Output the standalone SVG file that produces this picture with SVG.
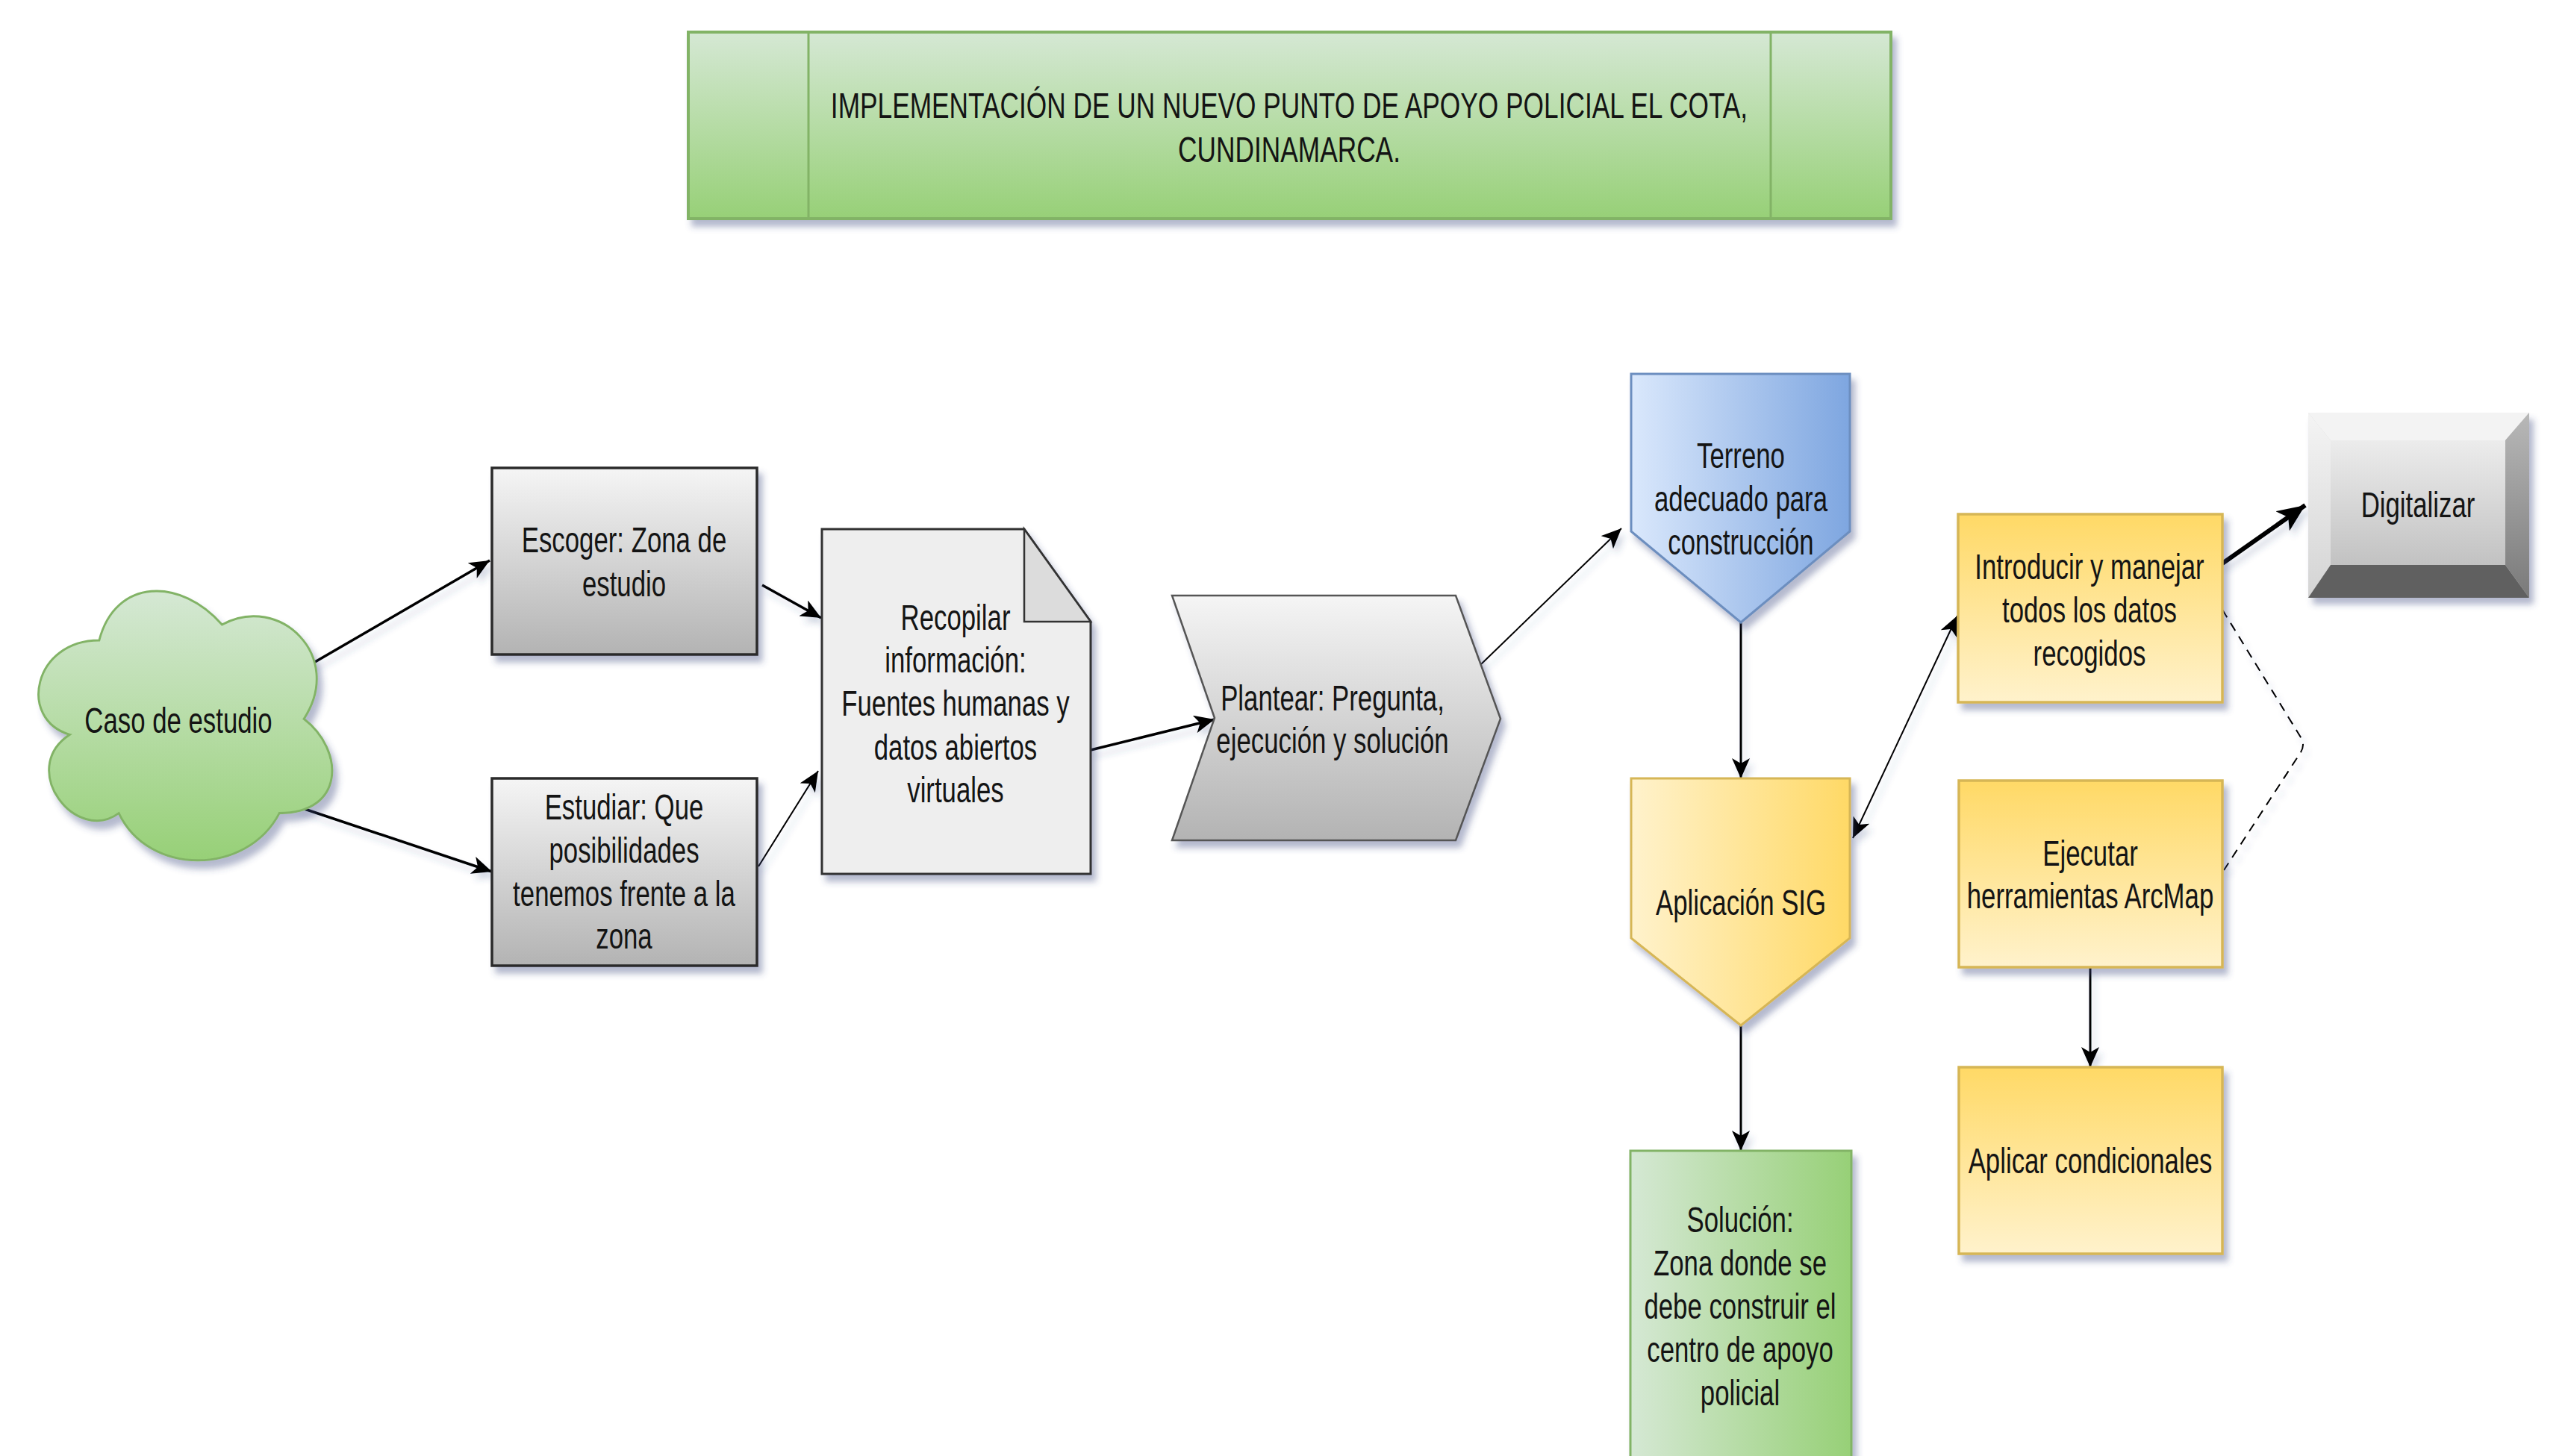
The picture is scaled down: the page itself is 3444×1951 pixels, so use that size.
<svg xmlns="http://www.w3.org/2000/svg" width="3444" height="1951" viewBox="0 0 3444 1951">
<style>
.t{font-family:"Liberation Sans",Arial,sans-serif;font-size:49px;fill:#141414;text-anchor:middle}
.c{fill:none;stroke:#000}
</style>
<defs>
<filter id="sh" x="-10%" y="-10%" width="130%" height="130%">
<feDropShadow dx="6" dy="9" stdDeviation="4" flood-color="#3b4a7e" flood-opacity="0.38"/>
</filter>
<filter id="shl" filterUnits="userSpaceOnUse" x="0" y="0" width="3444" height="1951">
<feDropShadow dx="5" dy="8" stdDeviation="4" flood-color="#3b4a7e" flood-opacity="0.22"/>
</filter>
<linearGradient id="gGreenV" x1="0" y1="0" x2="0" y2="1"><stop offset="0" stop-color="#d5e8d4"/><stop offset="1" stop-color="#97d077"/></linearGradient>
<linearGradient id="gGreenH" x1="0" y1="0" x2="1" y2="0"><stop offset="0" stop-color="#d5e8d4"/><stop offset="1" stop-color="#97d077"/></linearGradient>
<linearGradient id="gGray" x1="0" y1="0" x2="0" y2="1"><stop offset="0" stop-color="#f5f5f5"/><stop offset="1" stop-color="#b3b3b3"/></linearGradient>
<linearGradient id="gBlueH" x1="0" y1="0" x2="1" y2="0"><stop offset="0" stop-color="#dae8fc"/><stop offset="1" stop-color="#7ea6e0"/></linearGradient>
<linearGradient id="gYelH" x1="0" y1="0" x2="1" y2="0"><stop offset="0" stop-color="#fff2cc"/><stop offset="1" stop-color="#ffd966"/></linearGradient>
<linearGradient id="gYelV" x1="0" y1="0" x2="0" y2="1"><stop offset="0" stop-color="#ffd966"/><stop offset="1" stop-color="#fff2cc"/></linearGradient>
<linearGradient id="gBevIn" x1="0" y1="0" x2="0" y2="1"><stop offset="0" stop-color="#ececec"/><stop offset="1" stop-color="#c2c2c2"/></linearGradient>
<linearGradient id="gBevR" x1="0" y1="0" x2="0" y2="1"><stop offset="0" stop-color="#b8b8b8"/><stop offset="1" stop-color="#7a7a7a"/></linearGradient>
<linearGradient id="gBevL" x1="0" y1="0" x2="0" y2="1"><stop offset="0" stop-color="#f4f4f4"/><stop offset="1" stop-color="#d4d4d4"/></linearGradient>
<marker id="ah" markerUnits="userSpaceOnUse" markerWidth="30" markerHeight="24" refX="27" refY="12" orient="auto-start-reverse">
<path d="M0,0 L27,12 L0,24 L7,12 Z" fill="#000"/>
</marker>
<marker id="ahb" markerUnits="userSpaceOnUse" markerWidth="40" markerHeight="32" refX="37" refY="16" orient="auto">
<path d="M0,0 L37,16 L0,32 L9,16 Z" fill="#000"/>
</marker>
</defs>
<rect width="3444" height="1951" fill="#ffffff"/>

<g id="title">
<rect x="922" y="43" width="1611" height="250" fill="url(#gGreenV)" stroke="#82b366" stroke-width="4" filter="url(#sh)"/>
<line x1="1083" y1="43" x2="1083" y2="293" stroke="#82b366" stroke-width="3"/>
<line x1="2372" y1="43" x2="2372" y2="293" stroke="#82b366" stroke-width="3"/>
<text class="t" transform="translate(1727 0) scale(0.72 1)"><tspan x="0" y="158">IMPLEMENTACIÓN DE UN NUEVO PUNTO DE APOYO POLICIAL EL COTA,</tspan><tspan x="0" y="217">CUNDINAMARCA.</tspan></text>
</g>

<g id="connectors" filter="url(#shl)">
<line class="c" style="stroke-width:3.5" x1="415" y1="891" x2="656" y2="751" marker-end="url(#ah)"/>
<line class="c" style="stroke-width:3.5" x1="396" y1="1080" x2="659" y2="1168" marker-end="url(#ah)"/>
<line class="c" style="stroke-width:3.5" x1="1021" y1="784" x2="1100" y2="828" marker-end="url(#ah)"/>
<line class="c" style="stroke-width:2" x1="1016" y1="1161" x2="1096" y2="1033" marker-end="url(#ah)"/>
<line class="c" style="stroke-width:3.5" x1="1461" y1="1005" x2="1627" y2="964" marker-end="url(#ah)"/>
<line class="c" style="stroke-width:2" x1="1984" y1="890" x2="2172" y2="708" marker-end="url(#ah)"/>
<line class="c" style="stroke-width:3" x1="2332" y1="834" x2="2332" y2="1043" marker-end="url(#ah)"/>
<line class="c" style="stroke-width:3" x1="2332" y1="1374" x2="2332" y2="1542" marker-end="url(#ah)"/>
<line class="c" style="stroke-width:2" x1="2482" y1="1123" x2="2622" y2="825" marker-start="url(#ah)" marker-end="url(#ah)"/>
<line class="c" style="stroke-width:6" x1="2977" y1="755" x2="3088" y2="677" marker-end="url(#ahb)"/>
<line class="c" style="stroke-width:3" x1="2800" y1="1296" x2="2800" y2="1430" marker-end="url(#ah)"/>
<path class="c" style="stroke-width:2;stroke-dasharray:12 9" d="M2977,817 L3082,988 Q3088,998 3082,1008 L2979,1166"/>
</g>

<g id="caso">
<path transform="translate(242 972) scale(1.1 1.16) translate(-242 -980)" d="M142.75,881.75 C62.95,881.75 43,972.5 106.84,990.65 C43,1030.6 114.8,1117.7 166.7,1081.4 C202.6,1154 322.3,1154 362.2,1081.4 C442,1081.4 442,1008.8 392.1,972.5 C442,899.9 362.2,827.3 292.4,863.6 C242.5,809.15 162.7,809.15 142.75,881.75 Z" fill="url(#gGreenV)" stroke="#82b366" stroke-width="2.6" filter="url(#sh)"/>
<text class="t" transform="translate(239 0) scale(0.71 1)"><tspan x="0" y="982">Caso de estudio</tspan></text>
</g>

<g id="escoger">
<rect x="659" y="627" width="355" height="250" fill="url(#gGray)" stroke="#2b2b2b" stroke-width="3.5" filter="url(#sh)"/>
<text class="t" transform="translate(836 0) scale(0.71 1)"><tspan x="0" y="740">Escoger: Zona de</tspan><tspan x="0" y="799">estudio</tspan></text>
</g>

<g id="estudiar">
<rect x="659" y="1043" width="355" height="251" fill="url(#gGray)" stroke="#2b2b2b" stroke-width="3.5" filter="url(#sh)"/>
<text class="t" transform="translate(836 0) scale(0.71 1)"><tspan x="0" y="1098">Estudiar: Que</tspan><tspan x="0" y="1156">posibilidades</tspan><tspan x="0" y="1214">tenemos frente a la</tspan><tspan x="0" y="1271">zona</tspan></text>
</g>

<g id="recopilar">
<path d="M1101,709 L1372,709 L1461,833 L1461,1171 L1101,1171 Z" fill="#eeeeee" stroke="#333333" stroke-width="3" filter="url(#sh)"/>
<path d="M1372,709 L1372,833 L1461,833 Z" fill="#dcdcdc" stroke="#333333" stroke-width="2.5"/>
<text class="t" transform="translate(1280 0) scale(0.71 1)"><tspan x="0" y="844">Recopilar</tspan><tspan x="0" y="901">información:</tspan><tspan x="0" y="959">Fuentes humanas y</tspan><tspan x="0" y="1018">datos abiertos</tspan><tspan x="0" y="1075">virtuales</tspan></text>
</g>

<g id="plantear">
<path d="M1570,798 L1950,798 L2010,963 L1950,1126 L1570,1126 L1627,962 Z" fill="url(#gGray)" stroke="#555555" stroke-width="2.5" filter="url(#sh)"/>
<text class="t" transform="translate(1785 0) scale(0.71 1)"><tspan x="0" y="952">Plantear: Pregunta,</tspan><tspan x="0" y="1009">ejecución y solución</tspan></text>
</g>

<g id="terreno">
<path d="M2185,501 L2478,501 L2478,712 L2332,834 L2185,712 Z" fill="url(#gBlueH)" stroke="#6c8ebf" stroke-width="3" filter="url(#sh)"/>
<text class="t" transform="translate(2332 0) scale(0.71 1)"><tspan x="0" y="627">Terreno</tspan><tspan x="0" y="685">adecuado para</tspan><tspan x="0" y="743">construcción</tspan></text>
</g>

<g id="aplicacion">
<path d="M2185,1043 L2478,1043 L2478,1257 L2332,1374 L2185,1257 Z" fill="url(#gYelH)" stroke="#d6b656" stroke-width="3" filter="url(#sh)"/>
<text class="t" transform="translate(2332 0) scale(0.71 1)"><tspan x="0" y="1226">Aplicación SIG</tspan></text>
</g>

<g id="solucion">
<rect x="2184" y="1542" width="296" height="430" fill="url(#gGreenH)" stroke="#82b366" stroke-width="3" filter="url(#sh)"/>
<text class="t" transform="translate(2331 0) scale(0.71 1)"><tspan x="0" y="1651">Solución:</tspan><tspan x="0" y="1709">Zona donde se</tspan><tspan x="0" y="1767">debe construir el</tspan><tspan x="0" y="1825">centro de apoyo</tspan><tspan x="0" y="1883">policial</tspan></text>
</g>

<g id="introducir">
<rect x="2623" y="689" width="354" height="252" fill="url(#gYelV)" stroke="#d6b656" stroke-width="3.5" filter="url(#sh)"/>
<text class="t" transform="translate(2799 0) scale(0.71 1)"><tspan x="0" y="776">Introducir y manejar</tspan><tspan x="0" y="834">todos los datos</tspan><tspan x="0" y="892">recogidos</tspan></text>
</g>

<g id="ejecutar">
<rect x="2624" y="1046" width="353" height="250" fill="url(#gYelV)" stroke="#d6b656" stroke-width="3.5" filter="url(#sh)"/>
<text class="t" transform="translate(2800 0) scale(0.71 1)"><tspan x="0" y="1160">Ejecutar</tspan><tspan x="0" y="1217">herramientas ArcMap</tspan></text>
</g>

<g id="aplicar">
<rect x="2624" y="1430" width="353" height="250" fill="url(#gYelV)" stroke="#d6b656" stroke-width="3.5" filter="url(#sh)"/>
<text class="t" transform="translate(2800 0) scale(0.71 1)"><tspan x="0" y="1572">Aplicar condicionales</tspan></text>
</g>

<g id="digitalizar">
<g filter="url(#sh)">
<rect x="3092" y="553" width="296" height="248" fill="#d9d9d9"/>
<path d="M3092,553 L3388,553 L3356,590 L3122,590 Z" fill="#f3f3f3"/>
<path d="M3092,553 L3122,590 L3122,757 L3092,801 Z" fill="url(#gBevL)"/>
<path d="M3388,553 L3388,801 L3356,757 L3356,590 Z" fill="url(#gBevR)"/>
<path d="M3092,801 L3388,801 L3356,757 L3122,757 Z" fill="#616161"/>
<rect x="3122" y="590" width="234" height="167" fill="url(#gBevIn)"/>
</g>
<text class="t" transform="translate(3239 0) scale(0.71 1)"><tspan x="0" y="693">Digitalizar</tspan></text>
</g>
</svg>
